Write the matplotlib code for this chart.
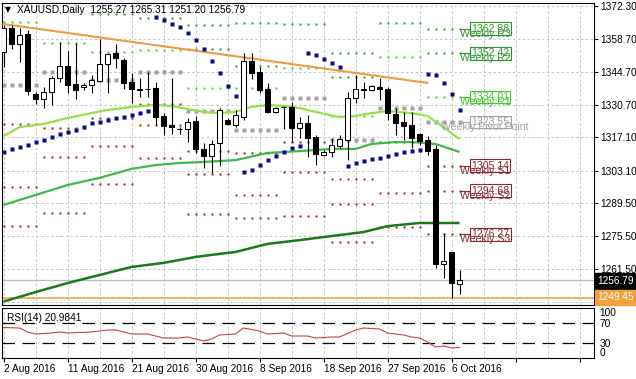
import matplotlib
matplotlib.use("Agg")
import matplotlib.pyplot as plt
import numpy as np

plt.rcParams['font.family'] = ['Liberation Sans', 'DejaVu Sans']
plt.rcParams['font.size'] = 7.3

# ---------------- data ----------------
date_ticks = [0, 8, 16, 24, 32, 40, 48, 56]
date_labels = ['2 Aug 2016', '11 Aug 2016', '21 Aug 2016', '30 Aug 2016',
               '8 Sep 2016', '18 Sep 2016', '27 Sep 2016', '6 Oct 2016']

opens = [1353.0, 1363.1, 1356.4, 1360.6, 1335.3, 1333.2, 1336.2, 1342.1, 1347.1, 1339.6,
         1338.3, 1339.1, 1340.8, 1348.0, 1352.6, 1349.7, 1340.4, 1337.4, 1337.4, 1337.9,
         1326.1, 1322.3, 1320.6, 1320.6, 1323.9, 1312.2, 1309.2, 1314.7, 1324.4, 1322.3,
         1325.6, 1349.2, 1344.6, 1337.4, 1327.8, 1329.9, 1329.9, 1321.0, 1323.1, 1317.2,
         1309.6, 1310.9, 1313.4, 1315.9, 1333.7, 1337.4, 1337.0, 1338.3, 1337.4, 1326.9,
         1323.5, 1322.3, 1318.5, 1315.9, 1312.2, 1263.7, 1268.8, 1255.27]
highs = [1364.4, 1364.4, 1363.1, 1362.3, 1336.2, 1338.3, 1342.9, 1357.2, 1353.5, 1356.8,
         1340.0, 1343.3, 1358.5, 1352.6, 1356.4, 1350.5, 1344.2, 1342.1, 1344.6, 1340.4,
         1327.3, 1342.1, 1321.4, 1325.2, 1326.1, 1314.7, 1315.9, 1329.4, 1325.2, 1328.6,
         1352.6, 1352.6, 1346.7, 1340.0, 1329.9, 1330.3, 1332.0, 1325.6, 1326.5, 1318.1,
         1311.8, 1316.8, 1318.1, 1336.2, 1343.3, 1340.4, 1339.1, 1342.1, 1338.3, 1329.4,
         1327.8, 1327.8, 1318.9, 1317.6, 1313.9, 1276.8, 1268.8, 1261.3]
lows = [1346.7, 1354.3, 1348.8, 1334.9, 1331.1, 1329.4, 1330.7, 1340.4, 1335.8, 1333.2,
        1337.0, 1335.8, 1340.4, 1335.8, 1346.3, 1337.4, 1331.5, 1334.1, 1334.1, 1322.3,
        1318.1, 1318.5, 1318.5, 1315.1, 1310.5, 1304.2, 1302.1, 1305.0, 1322.3, 1321.4,
        1324.4, 1341.7, 1335.8, 1327.3, 1327.3, 1320.6, 1315.1, 1316.8, 1308.8, 1305.4,
        1309.2, 1308.8, 1312.6, 1307.5, 1331.5, 1333.7, 1336.6, 1332.8, 1324.4, 1318.1,
        1315.9, 1312.6, 1313.9, 1309.6, 1262.0, 1257.8, 1249.4, 1251.2]
closes = [1363.1, 1356.4, 1360.2, 1336.6, 1333.2, 1336.2, 1342.1, 1347.1, 1339.1, 1337.0,
          1339.1, 1341.2, 1348.0, 1352.2, 1350.5, 1340.0, 1337.4, 1337.2, 1337.6, 1325.6,
          1321.9, 1321.4, 1320.7, 1323.5, 1312.2, 1309.2, 1314.3, 1328.6, 1322.7, 1326.5,
          1349.2, 1344.2, 1337.0, 1327.8, 1329.4, 1329.7, 1321.0, 1323.1, 1316.8, 1310.1,
          1310.9, 1313.9, 1316.4, 1333.7, 1337.4, 1337.2, 1338.7, 1337.4, 1327.3, 1323.1,
          1321.9, 1316.8, 1315.5, 1311.3, 1263.7, 1265.0, 1255.7, 1256.79]

sar = [1310.9, 1312.2, 1313.0, 1313.9, 1315.1, 1315.9, 1317.2, 1318.5, 1319.3, 1320.2,
       1321.4, 1323.1, 1323.5, 1324.4, 1325.2, 1325.6, 1326.5, 1327.3, 1328.2,
       1367.8, 1366.5, 1364.8, 1363.6, 1361.0, 1358.1, 1354.3, 1349.2, 1344.2, 1338.7, 1334.5,
       1302.5, 1303.3, 1305.4, 1307.5, 1309.2, 1310.9, 1312.6, 1313.4,
       1352.6, 1351.8, 1350.1, 1348.5, 1346.7,
       1305.0,
       1306.3, 1307.1, 1308.0, 1308.4, 1309.2, 1310.1, 1310.9, 1311.3, 1311.8,
       1343.8, 1343.3, 1340.0, 1335.3, 1328.6]

ma_fast_idx = [0, 2, 5, 8, 11, 13, 16, 19, 21, 23, 25, 27, 29, 31, 33, 35, 37, 39, 42, 44,
               46, 48, 51, 53, 55, 57]
ma_fast_val = [1317.6, 1321.4, 1322.7, 1325.2, 1327.3, 1328.6, 1329.9, 1330.7, 1330.3, 1329.0,
               1327.8, 1327.3, 1327.8, 1329.9, 1330.7, 1330.3, 1329.4, 1327.8, 1325.6, 1326.1,
               1327.3, 1328.2, 1327.3, 1326.1, 1321.4, 1316.4]
ma_mid_idx = [0, 4, 8, 12, 16, 19, 22, 25, 29, 33, 37, 41, 44, 46, 49, 51, 54, 57]
ma_mid_val = [1288.6, 1292.8, 1297.0, 1300.0, 1303.8, 1305.4, 1306.3, 1306.7, 1307.5, 1310.5,
              1311.3, 1312.2, 1312.2, 1314.3, 1315.1, 1315.1, 1314.3, 1310.9]
ma_slow_idx = [0, 4, 8, 12, 16, 20, 24, 27, 29, 33, 37, 41, 45, 48, 52, 57]
ma_slow_val = [1247.9, 1251.9, 1255.7, 1259.1, 1262.5, 1264.2, 1266.7, 1268.0, 1268.8, 1272.2,
               1273.8, 1275.5, 1277.2, 1279.7, 1281.0, 1281.0]

trend_idx = [0, 53]
trend_val = [1364.8, 1340.0]

week_start = [-2, 4, 10, 16, 22, 28, 34, 40, 46, 52]
piv_pp = [1339.1, 1344.6, 1341.2, 1344.8, 1328.0, 1320.0, 1333.8, 1315.8, 1329.3, 1323.55]
piv_r1 = [1365.6, 1356.8, 1353.0, 1353.8, 1337.9, 1337.9, 1346.2, 1326.2, 1351.1, 1334.01]
piv_r2 = [1382.0, 1380.4, 1369.0, 1367.5, 1354.5, 1347.3, 1365.0, 1342.4, 1365.1, 1352.42]
piv_r3 = [1408.5, 1392.6, 1380.8, 1376.5, 1364.4, 1365.2, 1377.4, 1352.8, 1386.9, 1362.88]
piv_s1 = [1322.7, 1321.0, 1325.2, 1331.1, 1311.4, 1310.6, 1315.0, 1299.6, 1315.3, 1305.14]
piv_s2 = [1296.2, 1308.8, 1313.4, 1322.1, 1301.5, 1292.7, 1302.6, 1289.2, 1293.5, 1294.68]
piv_s3 = [1279.8, 1285.2, 1297.4, 1308.4, 1284.9, 1283.3, 1283.8, 1273.0, 1279.5, 1276.27]

rsi_idx = [0, 2, 3, 4, 6, 7, 8, 11, 13, 14, 16, 18, 20, 22, 23, 25, 26, 27, 29, 30,
           32, 33, 35, 36, 38, 39, 41, 42, 44, 45, 47, 48, 50, 51, 52, 53, 54, 55, 56, 57]
rsi_val = [61, 60, 52, 48, 50, 52, 50, 52, 56, 56, 48, 48, 40, 40, 42, 34, 38, 46, 48, 60,
           54, 48, 50, 44, 44, 40, 42, 42, 56, 60, 58, 50, 46, 42, 40, 32, 22, 24, 20, 20.98]

price_ticks = [1372.30, 1358.70, 1344.70, 1330.70, 1317.10, 1303.10, 1289.50, 1275.50,
               1261.50, 1247.90]
bid_price = 1256.79
line_price = 1249.45

# ---------------- figure ----------------
W, H = 636, 379
fig = plt.figure(figsize=(W / 100, H / 100), dpi=100)
fig.patch.set_facecolor('white')


def rect(x0, y0, x1, y1):
    return [x0 / W, 1 - y1 / H, (x1 - x0) / W, (y1 - y0) / H]


ax = fig.add_axes(rect(2, 3, 594, 305))
axr = fig.add_axes(rect(2, 308, 594, 358))
XMIN, XMAX = -0.1875, 73.81
for a in (ax, axr):
    a.set_xlim(XMIN, XMAX)
    for sp in a.spines.values():
        sp.set_color('black')
        sp.set_linewidth(0.8)
    a.set_xticks(range(0, 74, 8))
    a.set_xticks(range(4, 74, 8), minor=True)
    a.grid(True, which='both', axis='x', color='#c4c4c4', lw=0.7, ls=(0, (2.5, 2.5)))
    a.set_axisbelow(True)

ax.set_ylim(1246.47, 1373.67)
axr.set_ylim(0, 100)

# main axis ticks
ax.tick_params(axis='x', which='both', length=0, labelbottom=False)
ax.yaxis.tick_right()
ax.set_yticks(price_ticks)
ax.set_yticklabels([f'{v:.2f}' for v in price_ticks])
ax.tick_params(axis='y', length=3, width=0.8, pad=1.5, labelsize=7.3)
ax.grid(True, axis='y', color='#c4c4c4', lw=0.7, ls=(0, (2.5, 2.5)))

# pivot dots
piv_specs = [
    (piv_r3, '#2f962f', 1.5), (piv_r2, '#2f962f', 1.5), (piv_r1, '#46c832', 1.5),
    (piv_pp, '#a3a3a3', 2.4),
    (piv_s1, '#8b2b2b', 1.5), (piv_s2, '#8b2b2b', 1.5), (piv_s3, '#8b2b2b', 1.5),
]
n = len(opens)
for w, s in enumerate(week_start):
    ii = np.arange(s + 1, s + 7)
    ii = ii[(ii >= 0) & (ii < n)]
    for arr, col, ms in piv_specs:
        ax.plot(ii, np.full(len(ii), arr[w]), ls='none', marker='s', ms=ms,
                color=col, mec='none', zorder=2)

# bid / horizontal lines
ax.axhline(bid_price, color='#bdbdbd', lw=0.9, zorder=1.5)
ax.axhline(line_price, color='#f0a13c', lw=1.1, zorder=1.5)

# moving averages
ax.plot(ma_fast_idx, ma_fast_val, color='#93e24a', lw=1.6, zorder=3, solid_capstyle='butt')
ax.plot(ma_mid_idx, ma_mid_val, color='#3fb84a', lw=1.6, zorder=3, solid_capstyle='butt')
ax.plot(ma_slow_idx, ma_slow_val, color='#1a7a1a', lw=1.8, zorder=3, solid_capstyle='butt')

# trend line
ax.plot(trend_idx, trend_val, color='#ef9b45', lw=1.5, zorder=3.5)

# candles
idx = np.arange(n)
o = np.array(opens); h = np.array(highs); l = np.array(lows); c = np.array(closes)
ax.vlines(idx, l, h, color='black', lw=0.8, zorder=5)
lo = np.minimum(o, c)
hgt = np.maximum(np.abs(c - o), 0.15)
cols = np.where(c >= o, 'white', 'black')
ax.bar(idx, hgt, bottom=lo, width=0.62, color=cols, edgecolor='black', lw=0.75, zorder=6)

# parabolic SAR
ax.plot(idx, sar, ls='none', marker='s', ms=2.4, color='#0a0a8c', mec='none', zorder=7)

# weekly level labels
lab_specs = [
    (piv_r3[-1], 'Weekly R3', '#2f962f'), (piv_r2[-1], 'Weekly R2', '#2f962f'),
    (piv_r1[-1], 'Weekly R1', '#46c832'), (piv_pp[-1], 'Weekly Pivot Point', '#a3a3a3'),
    (piv_s1[-1], 'Weekly S1', '#8b2b2b'), (piv_s2[-1], 'Weekly S2', '#8b2b2b'),
    (piv_s3[-1], 'Weekly S3', '#8b2b2b'),
]
for val, name, col in lab_specs:
    ax.plot([n - 1, 58.3], [val, val], color=col, lw=0.8, zorder=4)
    ax.text(58.45, val, f'{val:.2f}', color=col, va='center', ha='left', fontsize=7.6,
            zorder=8, bbox=dict(boxstyle='square,pad=0.12', fc='none', ec=col, lw=0.8))
    ax.annotate(name, (60.2, val), xytext=(0, -5), textcoords='offset pixels',
                ha='center', va='center', color=col, fontsize=7.6, zorder=9)

# RSI panel
axr.plot(rsi_idx, rsi_val, color='#c4453f', lw=0.8, zorder=3)
for lvl in (70, 30):
    axr.axhline(lvl, color='black', lw=0.9, ls=(0, (10, 6)), zorder=2)
axr.yaxis.tick_right()
axr.set_yticks([0, 30, 70, 100])
axr.set_yticklabels(['0', '30', '70', '100'])
axr.tick_params(axis='y', length=0, pad=4, labelsize=7.3)
labs = axr.get_yticklabels()
labs[0].set_va('bottom')
labs[3].set_va('top')
axr.set_xticklabels([date_labels[k] if k < len(date_labels) else ''
                     for k in range(len(range(0, 74, 8)))], ha='left')
axr.tick_params(axis='x', which='major', length=3, width=0.8, pad=1.5, labelsize=7.3)
axr.tick_params(axis='x', which='minor', length=0)
axr.text(0.008, 0.8, 'RSI(14) 20.9841', transform=axr.transAxes, va='center', ha='left',
         fontsize=7.3)

# header
fig.text(5 / W, 1 - 10 / H, '\u25bc', fontsize=5.5, va='center', ha='left',
         family='DejaVu Sans')
fig.text(17 / W, 1 - 10 / H, 'XAUUSD,Daily  1255.27 1265.31 1251.20 1256.79',
         va='center', ha='left', fontsize=7.3)

# price boxes on right axis
fig.text(597.5 / W, 1 - 281 / H, f'{bid_price:.2f}', color='white', va='center', ha='left',
         fontsize=7.3, bbox=dict(boxstyle='square,pad=0.25', fc='black', ec='black'))
fig.text(597.5 / W, 1 - 297.5 / H, f'{line_price:.2f}', color='white', va='center',
         ha='left', fontsize=7.3,
         bbox=dict(boxstyle='square,pad=0.25', fc='#f0a13c', ec='#f0a13c'))

fig.savefig('out.png', dpi=100, facecolor='white')
